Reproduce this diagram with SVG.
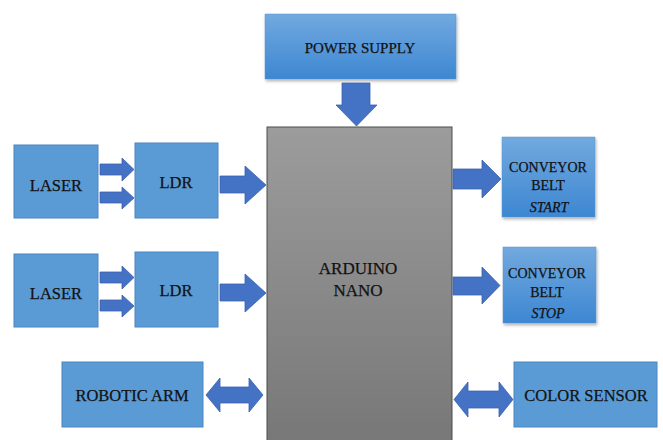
<svg xmlns="http://www.w3.org/2000/svg" width="663" height="440" viewBox="0 0 663 440">
<defs>
<linearGradient id="gblue" x1="0" y1="0" x2="0" y2="1">
<stop offset="0" stop-color="#72a9df"/>
<stop offset="1" stop-color="#3d87d2"/>
</linearGradient>
<linearGradient id="ggray" x1="0" y1="0" x2="0" y2="1">
<stop offset="0" stop-color="#9c9c9c"/>
<stop offset="1" stop-color="#777777"/>
</linearGradient>
<filter id="sh" x="-10%" y="-10%" width="130%" height="130%">
<feDropShadow dx="1" dy="2" stdDeviation="1.5" flood-color="#000" flood-opacity="0.3"/>
</filter>
</defs>
<style>
.flat{fill:#5b9bd5;stroke:#4a86c0;stroke-width:1}
.grad{fill:url(#gblue);stroke:#5b95cf;stroke-width:0.5;filter:url(#sh)}
.ard{fill:url(#ggray);stroke:#4d4d4d;stroke-width:1}
.arr{fill:#4472c4;stroke:#3a62ad;stroke-width:0.8}
text{font-family:"Liberation Serif","Times New Roman",serif;fill:#121212;stroke:#121212;stroke-width:0.25;text-anchor:middle}
.t16{font-size:16.5px}
.t15{font-size:15px}
.t14{font-size:14px}
.t17{font-size:17px}
.it{font-size:14px;font-style:italic}
</style>
<rect width="663" height="440" fill="#ffffff"/>
<g id="power">
<rect class="grad" x="265" y="14" width="191" height="65"/>
<text class="t15" x="360" y="53">POWER SUPPLY</text>
</g>
<g id="arduino">
<rect class="ard" x="267" y="127" width="185" height="320"/>
<text class="t17" x="358" y="274">ARDUINO</text>
<text class="t17" x="358" y="296">NANO</text>
</g>
<g id="laser1">
<rect class="flat" x="14" y="145" width="84" height="73"/>
<text class="t16" x="56" y="191">LASER</text>
</g>
<g id="ldr1">
<rect class="flat" x="135" y="143" width="83" height="75"/>
<text class="t16" x="176" y="188">LDR</text>
</g>
<g id="laser2">
<rect class="flat" x="14" y="254" width="84" height="73"/>
<text class="t16" x="56" y="299">LASER</text>
</g>
<g id="ldr2">
<rect class="flat" x="135" y="252" width="83" height="75"/>
<text class="t16" x="176" y="296">LDR</text>
</g>
<g id="conveyor-start">
<rect class="grad" x="502" y="137" width="93" height="80"/>
<text class="t14" x="548" y="172">CONVEYOR</text>
<text class="t14" x="548" y="190">BELT</text>
<text class="it" x="549" y="212">START</text>
</g>
<g id="conveyor-stop">
<rect class="grad" x="503" y="247" width="93" height="76"/>
<text class="t14" x="547" y="278">CONVEYOR</text>
<text class="t14" x="547" y="297">BELT</text>
<text class="it" x="548" y="318">STOP</text>
</g>
<g id="robotic-arm">
<rect class="flat" x="62" y="362" width="141" height="65"/>
<text class="t16" x="132" y="401">ROBOTIC ARM</text>
</g>
<g id="color-sensor">
<rect class="flat" x="514" y="362" width="143" height="65"/>
<text class="t16" x="586" y="401">COLOR SENSOR</text>
</g>
<g id="connectors">
<path class="arr" d="M342,83 H370 V105 H377 L356.5,126 L336,105 H342 Z"/>
<path class="arr" d="M100,164 H122 V158 L134,169.5 L122,181 V175 H100 Z"/>
<path class="arr" d="M100,192 H122 V187 L134,198 L122,209 V203 H100 Z"/>
<path class="arr" d="M100,272 H122 V266 L134,277.5 L122,289 V283 H100 Z"/>
<path class="arr" d="M100,300 H122 V295 L134,306 L122,317 V311 H100 Z"/>
<path class="arr" d="M220,176 H245 V166 L266,185 L245,204 V193 H220 Z"/>
<path class="arr" d="M220,284 H245 V274 L266,293 L245,312 V301 H220 Z"/>
<path class="arr" d="M453,169 H482 V160 L501,179 L482,198 V189 H453 Z"/>
<path class="arr" d="M453,277 H482 V267 L500,285.5 L482,304 V295 H453 Z"/>
<path class="arr" d="M206,395 L220,378 V387 H249 V378 L263,395 L249,412 V403 H220 V412 Z"/>
<path class="arr" d="M454,399.5 L468,382 V391 H499 V382 L513,399.5 L499,417 V408 H468 V417 Z"/>
</g>
</svg>
